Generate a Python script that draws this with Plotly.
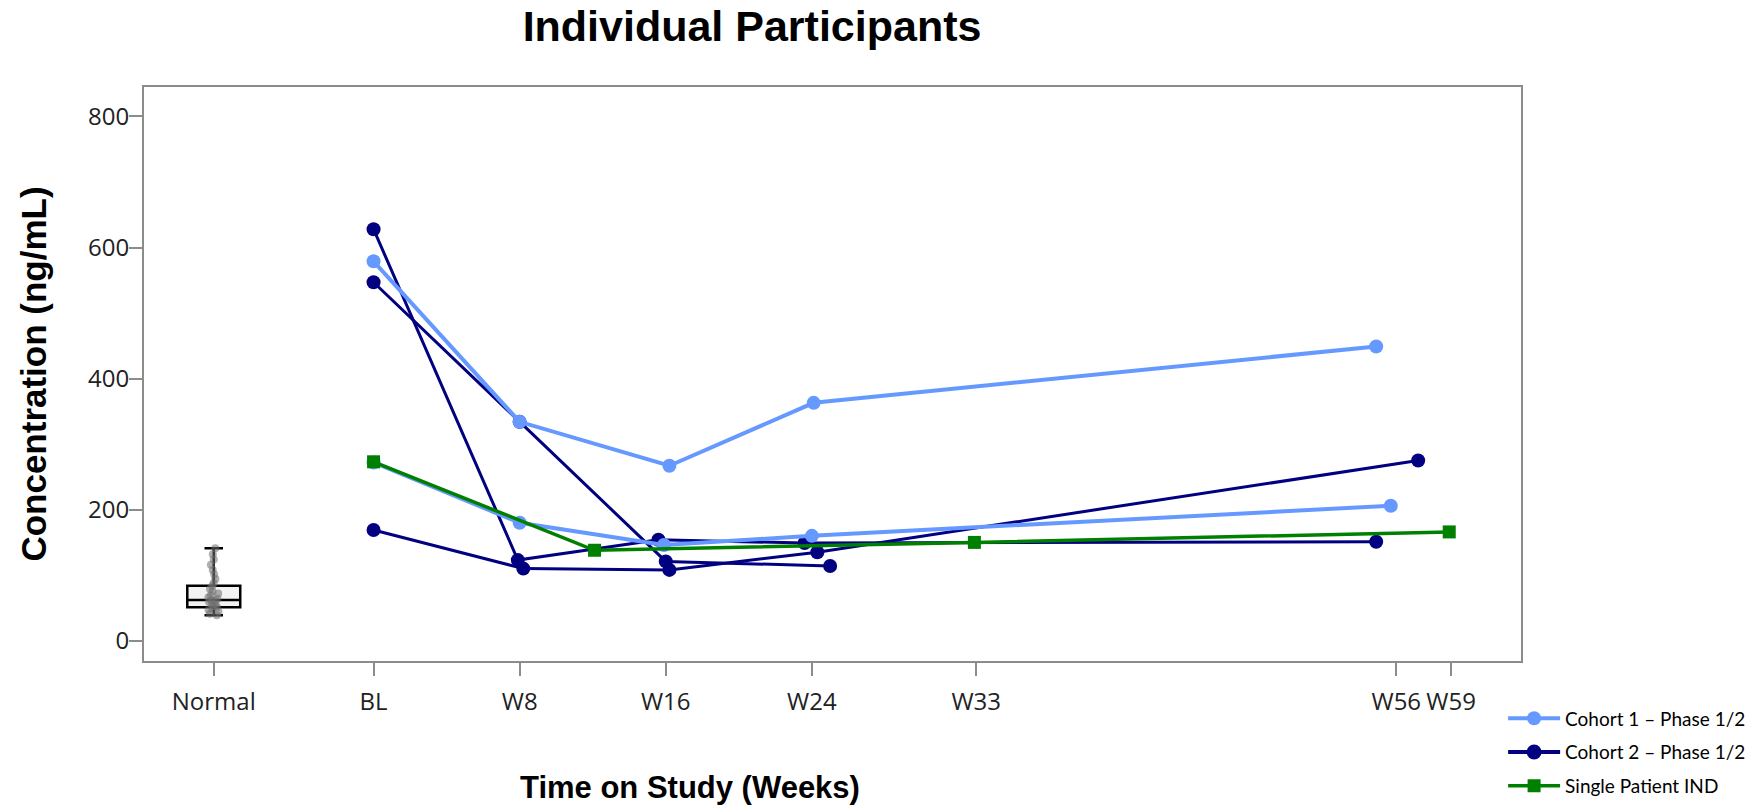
import plotly.graph_objects as go

# ---- tick labels (positions in study weeks; "Normal" sits left of baseline)
tick_weeks = [-8.75, 0, 8, 16, 24, 33, 56, 59]
tick_labels = ["Normal", "BL", "W8", "W16", "W24", "W33", "W56", "W59"]

# ---- healthy-volunteer reference range (ng/mL)
normal_pos = -8.75
normal_q1 = 51
normal_median = 62
normal_q3 = 84
normal_low = 39
normal_high = 141
normal_values = [39, 41, 44, 47, 49, 51, 53, 55, 57, 59, 61, 62, 64, 66, 69,
                 72, 75, 79, 84, 88, 94, 101, 108, 116, 124, 132, 141]

# ---- Cohort 1 – Phase 1/2 participants (week, ng/mL)
c1_p1_weeks = [0, 8.0, 16.2, 24.1, 54.9]
c1_p1_conc = [579, 334, 267, 363, 449]
c1_p2_weeks = [0, 8.0, 15.9, 24.0, 55.7]
c1_p2_conc = [272, 180, 146, 160, 206]

# ---- Cohort 2 – Phase 1/2 participants
c2_p1_weeks = [0, 7.9, 15.6, 23.6, 54.9]
c2_p1_conc = [628, 123, 154, 149, 151]
c2_p2_weeks = [0, 8.0, 16.0, 25.0]
c2_p2_conc = [547, 334, 121, 114]
c2_p3_weeks = [0, 8.2, 16.2, 24.3, 57.2]
c2_p3_conc = [169, 110, 108, 135, 275]

# ---- Single patient IND
ind_weeks = [0, 12.1, 32.9, 58.9]
ind_conc = [273, 138, 150, 166]

LIGHT = "#6699FF"
NAVY = "#000080"
GREEN = "#008000"
AXIS = "#8c8c8c"

fig = go.Figure()

# normal range box (precomputed statistics)
fig.add_trace(go.Box(
    x=[normal_pos], q1=[normal_q1], median=[normal_median], q3=[normal_q3],
    lowerfence=[normal_low], upperfence=[normal_high],
    width=2.9, whiskerwidth=0.35, boxpoints=False,
    fillcolor="#f2f2f2", line=dict(color="black", width=2.5),
    showlegend=False, hoverinfo="skip",
))
# individual normal samples drawn over the box
fig.add_trace(go.Box(
    x=[normal_pos] * len(normal_values), y=normal_values,
    width=2.9, boxpoints="all", jitter=0.25, pointpos=0,
    fillcolor="rgba(0,0,0,0)", line=dict(color="rgba(0,0,0,0)", width=0),
    marker=dict(color="rgba(110,110,110,0.55)", size=8),
    showlegend=False, hoverinfo="y",
))

def participant(weeks, conc, name, color, width, symbol, size, show):
    fig.add_trace(go.Scatter(
        x=weeks, y=conc, mode="lines+markers", name=name,
        legendgroup=name, showlegend=show,
        line=dict(color=color, width=width),
        marker=dict(color=color, size=size, symbol=symbol),
    ))

c2 = "Cohort 2 – Phase 1/2"
participant(c2_p1_weeks, c2_p1_conc, c2, NAVY, 3, "circle", 14, False)
participant(c2_p2_weeks, c2_p2_conc, c2, NAVY, 3, "circle", 14, False)
participant(c2_p3_weeks, c2_p3_conc, c2, NAVY, 3, "circle", 14, False)

c1 = "Cohort 1 – Phase 1/2"
participant(c1_p1_weeks, c1_p1_conc, c1, LIGHT, 4, "circle", 14, True)
participant(c1_p2_weeks, c1_p2_conc, c1, LIGHT, 4, "circle", 14, False)

# legend entry for cohort 2 placed after cohort 1
fig.add_trace(go.Scatter(
    x=[None], y=[None], mode="lines+markers", name=c2, legendgroup=c2,
    line=dict(color=NAVY, width=4), marker=dict(color=NAVY, size=15),
))

participant(ind_weeks, ind_conc, "Single Patient IND", GREEN, 3.5, "square", 13, True)

fig.update_layout(
    width=1753, height=806,
    margin=dict(l=144, r=232, t=87, b=145, autoexpand=False),
    paper_bgcolor="white", plot_bgcolor="white",
    boxmode="overlay",
    title=dict(
        text="Individual Participants", x=0.429, xanchor="center",
        y=0.968, yanchor="middle",
        font=dict(family="Liberation Sans, Arial", size=43, color="black", weight="bold"),
    ),
    legend=dict(
        x=0.987, xanchor="left", y=-0.067, yanchor="top",
        font=dict(family="Lato", size=19, color="black"),
        itemwidth=52, tracegroupgap=6, bgcolor="rgba(0,0,0,0)",
    ),
    annotations=[dict(
        text="Time on Study (Weeks)", xref="paper", yref="paper",
        x=0.3965, y=-0.221, xanchor="center", yanchor="middle", showarrow=False,
        font=dict(family="Liberation Sans, Arial", size=31, color="black", weight="bold"),
    )],
)

fig.update_xaxes(
    range=[-12.57, 62.83], tickvals=tick_weeks, ticktext=tick_labels, tickangle=0,
    showline=True, mirror=True, linecolor=AXIS, linewidth=2,
    ticks="outside", ticklen=13, tickwidth=2, tickcolor=AXIS,
    showgrid=False, zeroline=False, ticklabelstandoff=5,
    tickfont=dict(family="Open Sans", size=24, color="#222222"),
)
fig.update_yaxes(
    range=[-31, 845], tickvals=[0, 200, 400, 600, 800],
    showline=True, mirror=True, linecolor=AXIS, linewidth=2,
    ticks="outside", ticklen=13, tickwidth=2, tickcolor=AXIS,
    showgrid=False, zeroline=False, ticklabelstandoff=-5,
    tickfont=dict(family="Open Sans", size=24, color="#222222"),
    title=dict(text="Concentration (ng/mL)", standoff=31,
               font=dict(family="Liberation Sans, Arial", size=35, color="black", weight="bold")),
)

fig.write_html("out.html")
